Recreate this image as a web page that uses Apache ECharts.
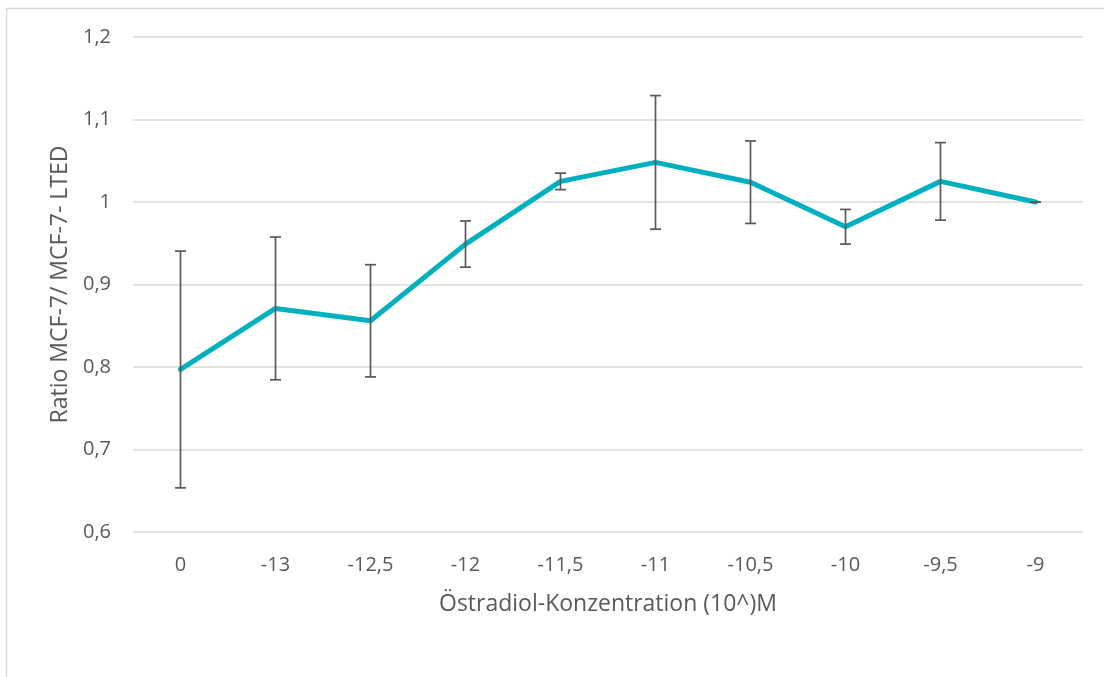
<!DOCTYPE html>
<html>
<head>
<meta charset="utf-8">
<script src="https://cdn.jsdelivr.net/npm/echarts@6/dist/echarts.min.js"></script>
<style>
  html, body { margin: 0; padding: 0; background: #fff; }
  #chart { width: 1104px; height: 677px; }
</style>
</head>
<body>
<div id="chart"></div>
<script>
// Östradiol concentrations (log10 M), 0 = untreated control
const categories = ['0', '-13', '-12,5', '-12', '-11,5', '-11', '-10,5', '-10', '-9,5', '-9'];
// Mean ratio MCF-7 / MCF-7-LTED
const ratioValues = [0.797, 0.871, 0.856, 0.949, 1.025, 1.048, 1.024, 0.970, 1.025, 1.000];
// Standard deviation of each mean
const ratioErrors = [0.1435, 0.0865, 0.068, 0.028, 0.010, 0.081, 0.050, 0.021, 0.047, 0.000];
// Value axis ticks
const yTicks = [0.6, 0.7, 0.8, 0.9, 1.0, 1.1, 1.2];

const textColor = '#595959';
const fontFamily = '"Open Sans", "Liberation Sans", sans-serif';

const errorData = categories.map((c, i) => [i, ratioValues[i] - ratioErrors[i], ratioValues[i] + ratioErrors[i]]);

const chart = echarts.init(document.getElementById('chart'), null, { renderer: 'canvas' });

chart.setOption({
  animation: false,
  backgroundColor: '#ffffff',
  textStyle: { fontFamily: fontFamily },
  graphic: [{
    type: 'rect',
    shape: { x: 6.5, y: 8.5, width: 1200, height: 800 },
    style: { fill: 'none', stroke: '#d9d9d9', lineWidth: 1.5 },
    silent: true
  }],
  grid: { left: 133, right: 21, top: 37, bottom: 145 },
  xAxis: {
    type: 'category',
    data: categories,
    boundaryGap: true,
    axisLine: { show: false },
    axisTick: { show: false },
    axisLabel: { color: textColor, fontSize: 20, margin: 23, fontFamily: fontFamily },
    name: 'Östradiol-Konzentration (10^)M',
    nameLocation: 'middle',
    nameGap: 61,
    nameTextStyle: { color: textColor, fontSize: 23, fontFamily: fontFamily }
  },
  yAxis: {
    type: 'value',
    min: yTicks[0],
    max: yTicks[yTicks.length - 1],
    interval: 0.1,
    axisLine: { show: false },
    axisTick: { show: false },
    splitLine: { lineStyle: { color: '#d9d9d9', width: 1.5 } },
    axisLabel: {
      color: textColor, fontSize: 20, margin: 22, fontFamily: fontFamily,
      formatter: v => String(Math.round(v * 10) / 10).replace('.', ',')
    },
    name: 'Ratio MCF-7/ MCF-7- LTED',
    nameLocation: 'middle',
    nameGap: 61,
    nameTextStyle: { color: textColor, fontSize: 23, fontFamily: fontFamily }
  },
  series: [
    {
      type: 'line',
      data: ratioValues,
      symbol: 'none',
      lineStyle: { color: '#00b0bf', width: 5, cap: 'round', join: 'round' },
      z: 2
    },
    {
      type: 'custom',
      data: errorData,
      z: 3,
      renderItem: function (params, api) {
        const x = api.value(0);
        const lo = api.coord([x, api.value(1)]);
        const hi = api.coord([x, api.value(2)]);
        const half = 5.5;
        const style = { stroke: '#595959', lineWidth: 1.7 };
        return {
          type: 'group',
          children: [
            { type: 'line', shape: { x1: hi[0], y1: hi[1], x2: lo[0], y2: lo[1] }, style: style },
            { type: 'line', shape: { x1: hi[0] - half, y1: hi[1], x2: hi[0] + half, y2: hi[1] }, style: style },
            { type: 'line', shape: { x1: lo[0] - half, y1: lo[1], x2: lo[0] + half, y2: lo[1] }, style: style }
          ]
        };
      }
    }
  ]
});
</script>
</body>
</html>
